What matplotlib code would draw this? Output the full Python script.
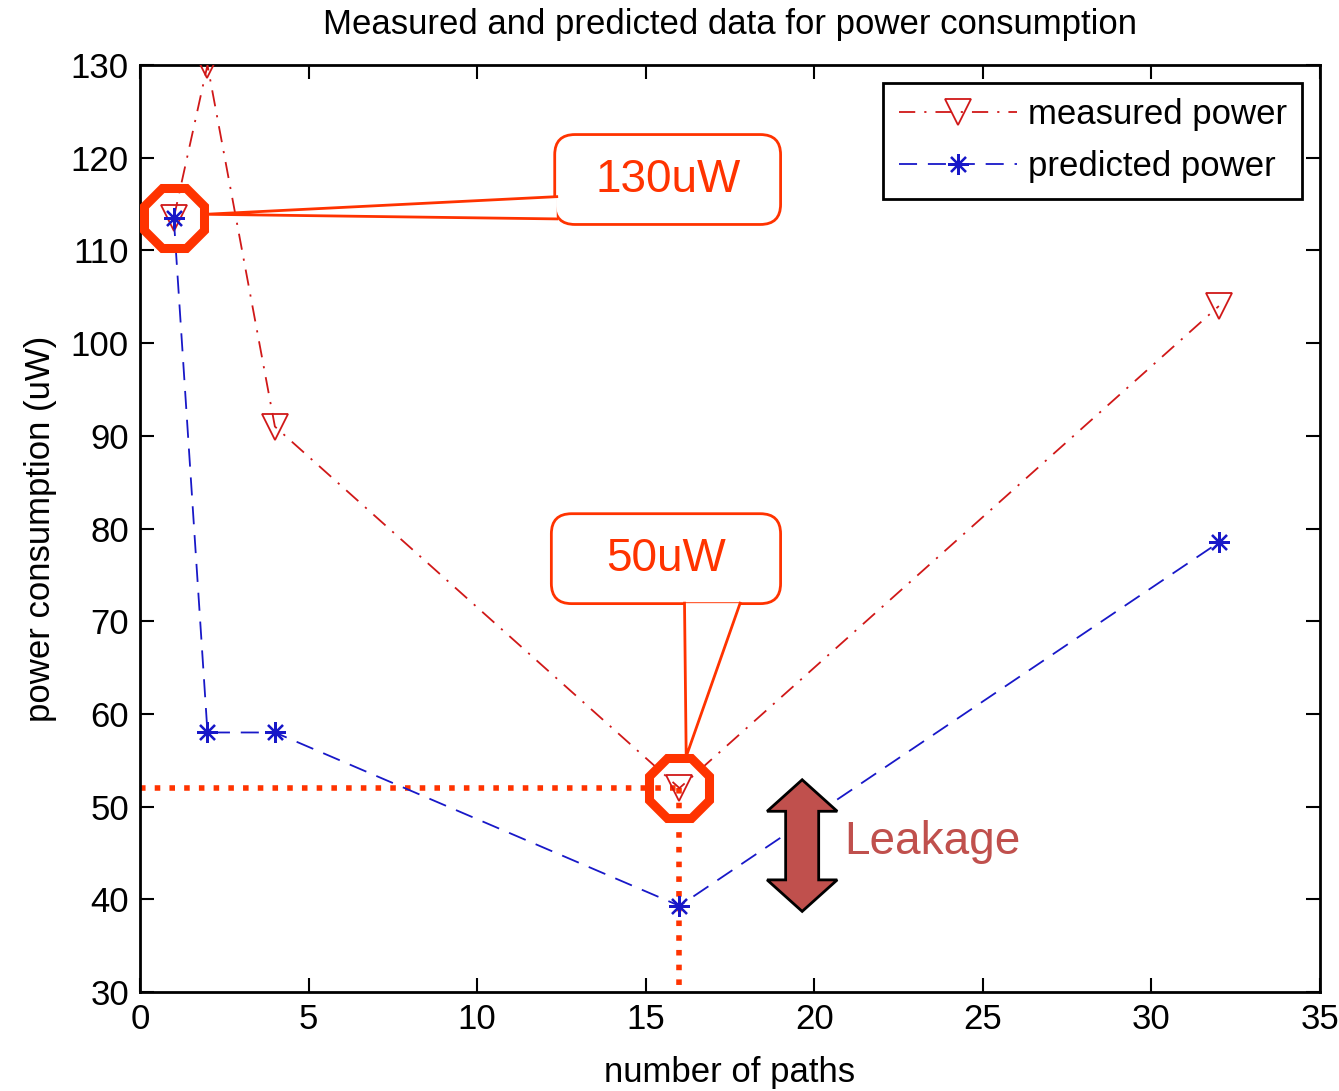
import matplotlib
matplotlib.use("Agg")
import matplotlib.pyplot as plt
import matplotlib.patches as mpatches

# === DATA ===
paths = [1, 2, 4, 16, 32]
measured = [113.5, 130, 91, 52, 104]
predicted = [113.5, 58, 58, 39.3, 78.5]

TITLE = "Measured and predicted data for power consumption"
XLABEL = "number of paths"
YLABEL = "power consumption (uW)"
CALL_RED = "#FF3300"
LEAK_RED = "#C0504D"
FS = 25

# === STYLE ===
plt.rcParams['font.family'] = ['Liberation Sans', 'DejaVu Sans']
fig = plt.figure(figsize=(13.39, 10.91), dpi=100)
ax = fig.add_axes([0.1046, 0.0907, 0.8812, 0.8497])

ax.plot(paths, measured, linestyle=(0, (9, 5, 1.2, 5)), color='#d01818', lw=1.3,
        marker='v', ms=19, mfc='none', mec='#d01818', mew=1.3,
        label='measured power', zorder=3)
ax.plot(paths, predicted, linestyle=(0, (10, 6)), color='#1818c8', lw=1.3,
        marker=(8, 2, 0), ms=15, mfc='#1818c8', mec='#1818c8', mew=1.6,
        label='predicted power', zorder=3)

ax.set_xlim(0, 35)
ax.set_ylim(30, 130)
ax.set_xticks(range(0, 36, 5))
ax.set_yticks(range(30, 131, 10))
ax.tick_params(direction='in', length=10, width=1.5, top=True, right=True,
               labelsize=FS, pad=8)
for s in ax.spines.values():
    s.set_linewidth(2)
ax.set_title(TITLE, fontsize=FS, pad=22)
ax.set_xlabel(XLABEL, fontsize=FS, labelpad=14)
ax.set_ylabel(YLABEL, fontsize=FS, labelpad=10)

leg = ax.legend(loc='upper right', fontsize=FS, fancybox=False, framealpha=1,
                borderpad=0.45, handlelength=3.4, labelspacing=0.55,
                handletextpad=0.3, borderaxespad=0,
                bbox_to_anchor=(0.985, 0.981))
leg.get_frame().set_edgecolor('black')
leg.get_frame().set_linewidth(2)

# === ANNOTATIONS ===
# dotted guide lines to the minimum measured point
ax.plot([0, paths[3]], [measured[3], measured[3]], ls=':', color=CALL_RED,
        lw=4, zorder=2)
ax.plot([paths[3], paths[3]], [measured[3], 30], ls=':', color=CALL_RED,
        lw=4, zorder=2, clip_on=False)

# octagon highlights
for i in (0, 3):
    ax.plot(paths[i], measured[i], marker='8', ms=47, mfc='none',
            mec=CALL_RED, mew=6.5, zorder=5)


def callout(x0, x1, y0, y1, text, wedge, tip):
    box = mpatches.FancyBboxPatch((x0, y0), x1 - x0, y1 - y0,
                                  boxstyle="round,pad=0,rounding_size=0.6",
                                  mutation_aspect=33.6 / 9.28,
                                  fc='white', ec=CALL_RED, lw=2, zorder=6)
    ax.add_patch(box)
    (a, b) = wedge
    poly = mpatches.Polygon([a, tip, b], closed=True, fc='white', ec='none',
                            zorder=7)
    ax.add_patch(poly)
    ax.plot([a[0], tip[0], b[0]], [a[1], tip[1], b[1]], color=CALL_RED,
            lw=2, zorder=8, solid_joinstyle='miter')
    ax.text((x0 + x1) / 2, (y0 + y1) / 2, text, color=CALL_RED, fontsize=33,
            ha='center', va='center', zorder=9)


callout(12.3, 19.0, 112.8, 122.5, "130uW",
        ((12.36, 115.8), (12.36, 113.4)), (1.95, 113.9))
callout(12.2, 19.0, 71.9, 81.6, "50uW",
        ((16.15, 71.95), (17.8, 71.95)), (16.2, 55.4))

# double-headed leakage arrow
cx, top, bot = 19.64, 52.9, 38.7
hw, sw, hl = 1.04, 0.49, 3.4
arrow = mpatches.Polygon([
    (cx, top), (cx + hw, top - hl), (cx + sw, top - hl), (cx + sw, bot + hl),
    (cx + hw, bot + hl), (cx, bot), (cx - hw, bot + hl), (cx - sw, bot + hl),
    (cx - sw, top - hl), (cx - hw, top - hl)],
    closed=True, fc=LEAK_RED, ec='black', lw=2, zorder=6)
ax.add_patch(arrow)
ax.text(20.9, 46.2, "Leakage", color=LEAK_RED, fontsize=33, ha='left',
        va='center', zorder=9)

fig.savefig("out.png", dpi=100)
